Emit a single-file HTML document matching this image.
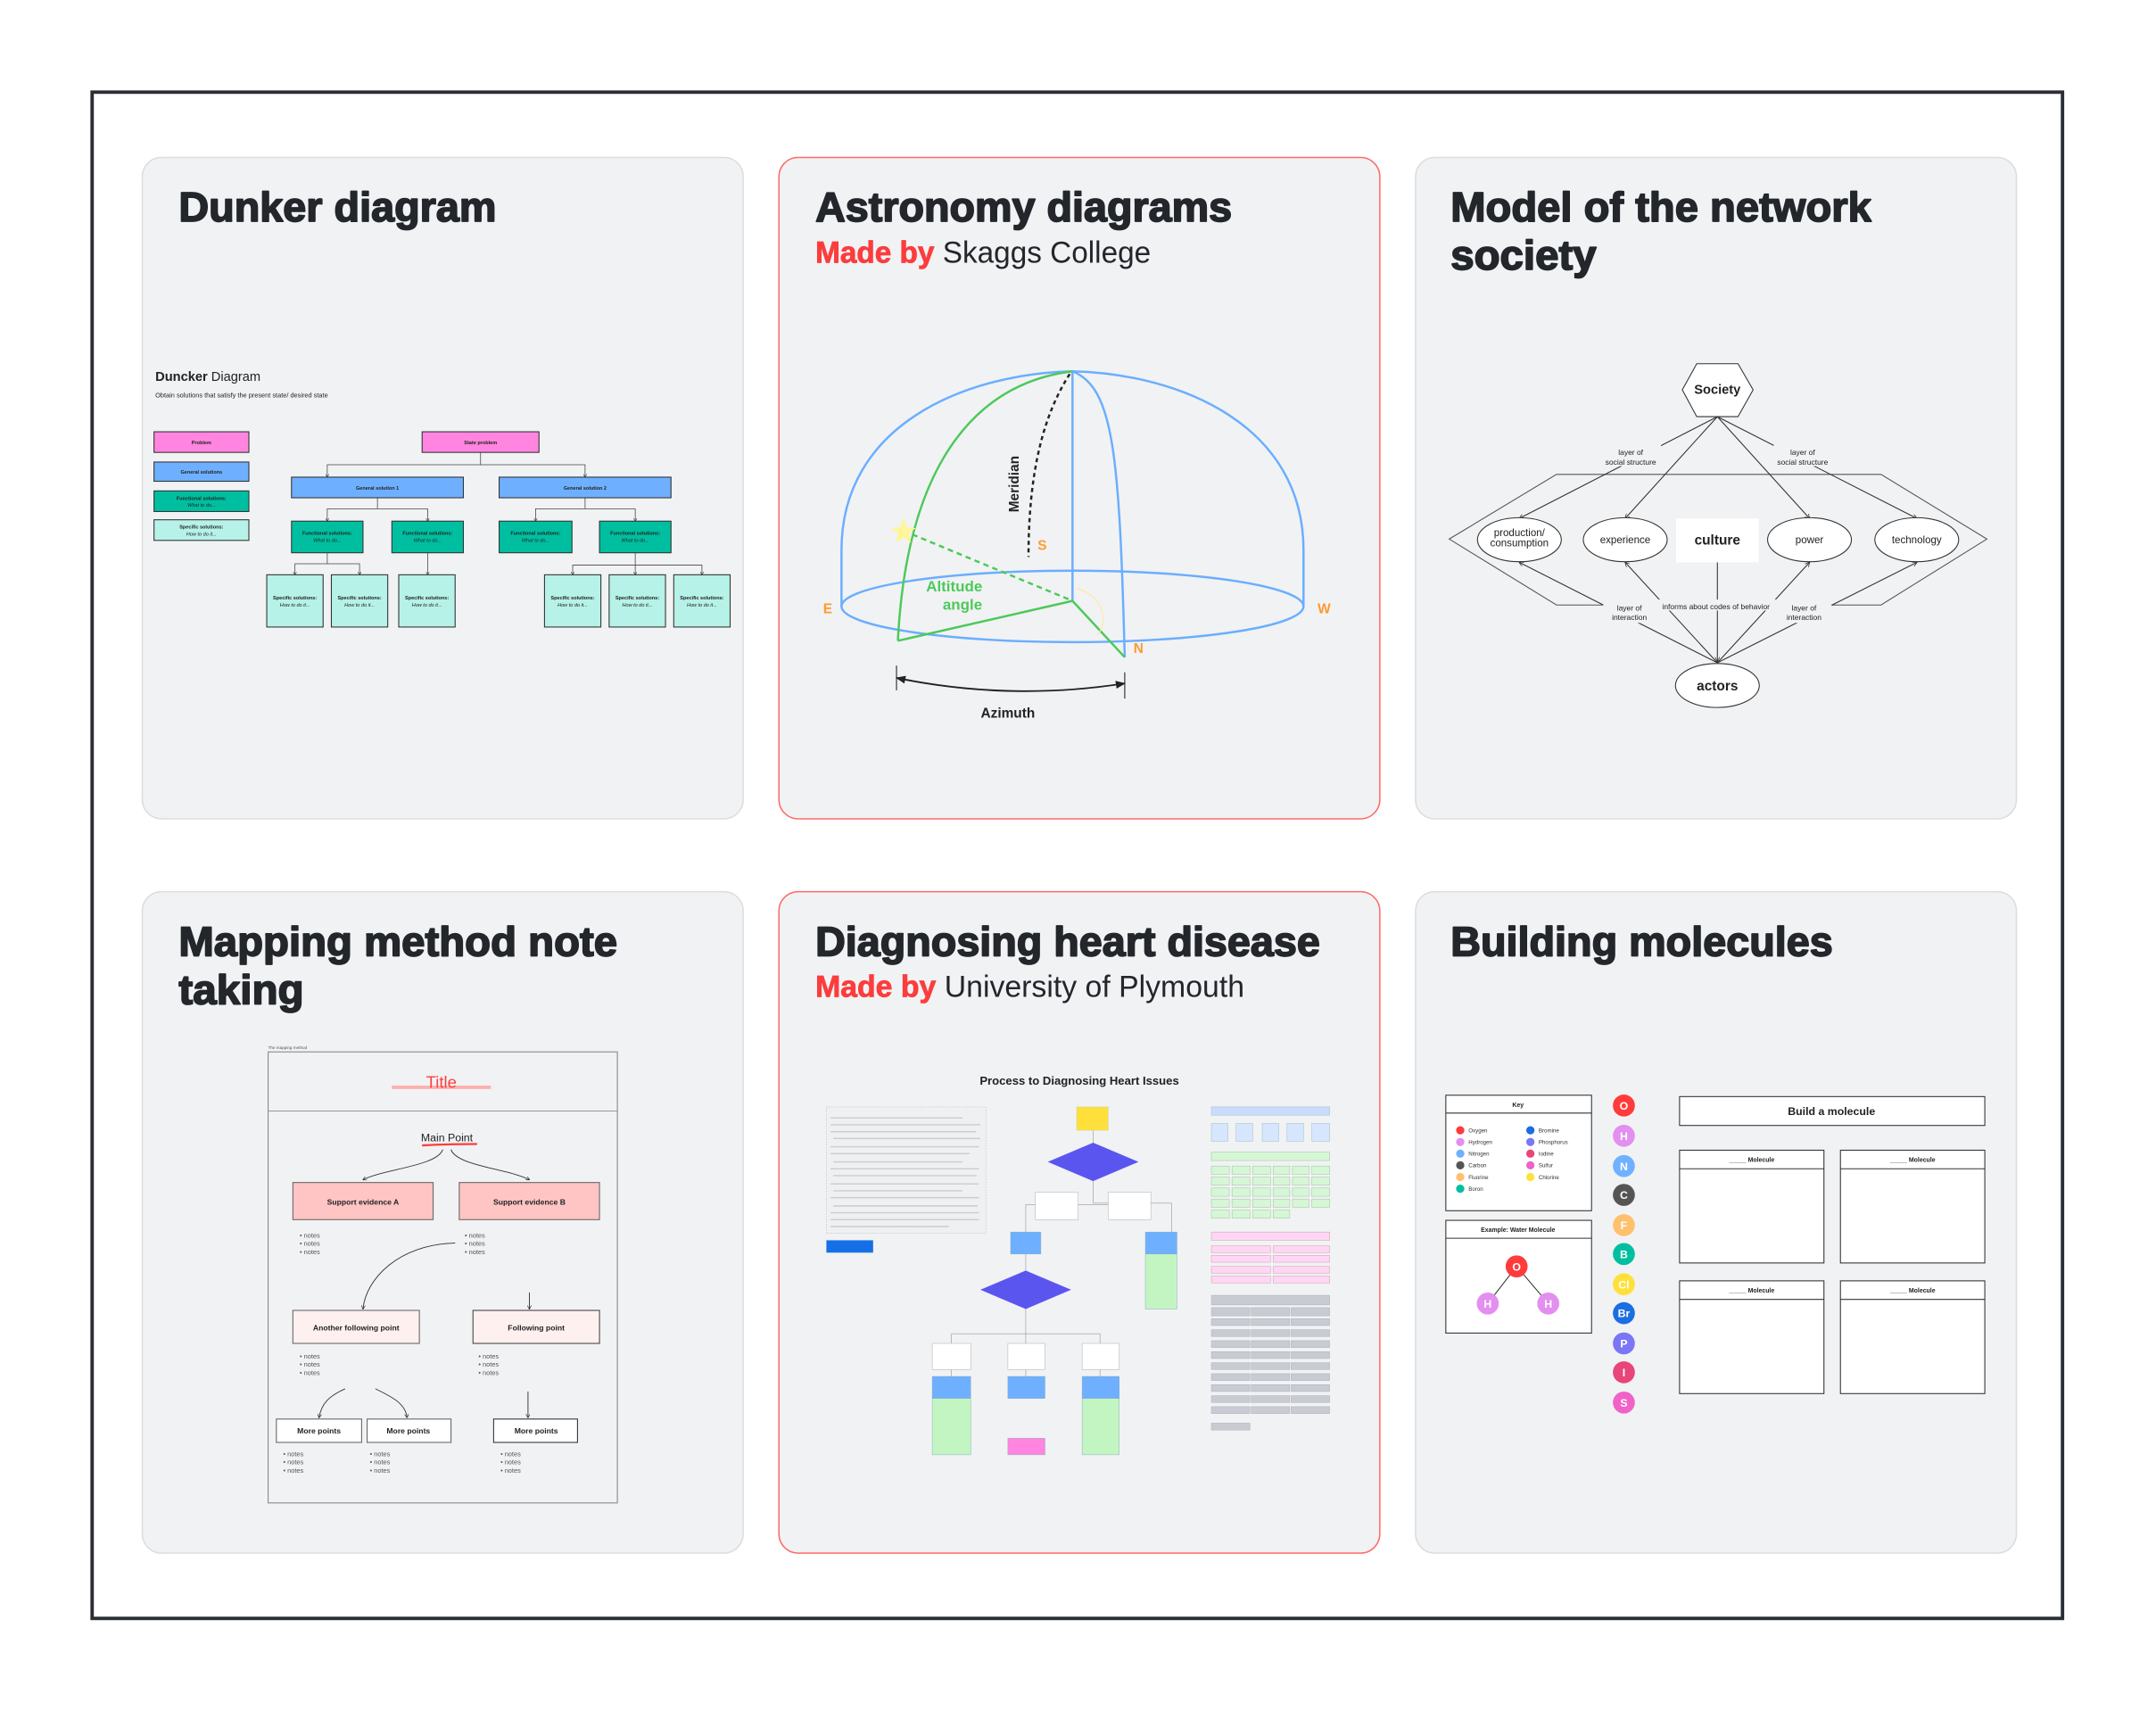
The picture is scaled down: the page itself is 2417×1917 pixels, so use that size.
<!DOCTYPE html>
<html><head><meta charset="utf-8"><style>html,body{margin:0;padding:0;background:#fff}svg{display:block}</style></head>
<body>
<svg width="2417" height="1917" viewBox="0 0 1568 1243.6" xmlns="http://www.w3.org/2000/svg" font-family="Liberation Sans, sans-serif">
<defs>
<marker id="ar" viewBox="0 0 10 10" refX="9" refY="5" markerWidth="5" markerHeight="5" orient="auto-start-reverse"><path d="M0,0 L10,5 L0,10" fill="none" stroke="#333" stroke-width="1.5"/></marker>
<marker id="az" viewBox="0 0 10 10" refX="9" refY="5" markerWidth="6" markerHeight="6" orient="auto-start-reverse"><path d="M0,1 L10,5 L0,9 z" fill="#222"/></marker>
</defs>
<rect width="1568" height="1243.6" fill="#fff"/>
<rect x="67" y="67" width="1433" height="1110" fill="#fff" stroke="#2a2d33" stroke-width="2.5"/>
<!-- cards -->
<g stroke-width="1">
<rect x="103.5" y="114.5" width="437" height="481" rx="14" fill="#f1f2f4" stroke="#dcdde0"/>
<rect x="566.5" y="114.5" width="437" height="481" rx="14" fill="#f1f2f4" stroke="#ff6b6b"/>
<rect x="1029.5" y="114.5" width="437" height="481" rx="14" fill="#f1f2f4" stroke="#dcdde0"/>
<rect x="103.5" y="648.5" width="437" height="481" rx="14" fill="#f1f2f4" stroke="#dcdde0"/>
<rect x="566.5" y="648.5" width="437" height="481" rx="14" fill="#f1f2f4" stroke="#ff6b6b"/>
<rect x="1029.5" y="648.5" width="437" height="481" rx="14" fill="#f1f2f4" stroke="#dcdde0"/>
</g>
<!-- titles -->
<g font-weight="bold" font-size="30" fill="#23262b" stroke="#23262b" stroke-width="1.1" stroke-linejoin="round">
<text x="130" y="161" textLength="231" lengthAdjust="spacingAndGlyphs">Dunker diagram</text>
<text x="593" y="161" textLength="303" lengthAdjust="spacingAndGlyphs">Astronomy diagrams</text>
<text x="1055" y="161" textLength="306" lengthAdjust="spacingAndGlyphs">Model of the network</text>
<text x="1055" y="196" textLength="106" lengthAdjust="spacingAndGlyphs">society</text>
<text x="130" y="695" textLength="319" lengthAdjust="spacingAndGlyphs">Mapping method note</text>
<text x="130" y="730" textLength="91" lengthAdjust="spacingAndGlyphs">taking</text>
<text x="593" y="695" textLength="367" lengthAdjust="spacingAndGlyphs">Diagnosing heart disease</text>
<text x="1055" y="695" textLength="278" lengthAdjust="spacingAndGlyphs">Building molecules</text>
</g>
<text x="593" y="191" font-size="22" fill="#23262b" textLength="244" lengthAdjust="spacingAndGlyphs"><tspan fill="#fc3d3d" stroke="#fc3d3d" stroke-width="0.5" font-weight="bold">Made by</tspan> Skaggs College</text>
<text x="593" y="725" font-size="22" fill="#23262b" textLength="312" lengthAdjust="spacingAndGlyphs"><tspan fill="#fc3d3d" stroke="#fc3d3d" stroke-width="0.5" font-weight="bold">Made by</tspan> University of Plymouth</text>

<!-- Dunker diagram -->
<g font-size="3.6" text-anchor="middle" fill="#222" font-weight="bold">
<text x="113" y="277" font-size="9.5" text-anchor="start" font-weight="normal"><tspan font-weight="bold">Duncker</tspan> Diagram</text>
<text x="113" y="289" font-size="4.8" text-anchor="start" font-weight="normal">Obtain solutions that satisfy the present state/ desired state</text>
<g stroke="#333" stroke-width="0.7">
<rect x="112" y="314" width="69" height="15" fill="#ff85e0"/>
<rect x="112" y="336" width="69" height="14" fill="#6eb0ff"/>
<rect x="112" y="357" width="69" height="15" fill="#00bfa0"/>
<rect x="112" y="378" width="69" height="15" fill="#b6f2e8"/>
<rect x="307" y="314" width="85" height="15" fill="#ff85e0"/>
<rect x="212" y="347" width="125" height="15" fill="#6eb0ff"/>
<rect x="363" y="347" width="125" height="15" fill="#6eb0ff"/>
<rect x="212" y="379" width="52" height="23" fill="#00bfa0"/>
<rect x="285" y="379" width="52" height="23" fill="#00bfa0"/>
<rect x="363" y="379" width="53" height="23" fill="#00bfa0"/>
<rect x="436" y="379" width="52" height="23" fill="#00bfa0"/>
<rect x="194" y="418" width="41" height="38" fill="#b6f2e8"/>
<rect x="241" y="418" width="41" height="38" fill="#b6f2e8"/>
<rect x="290" y="418" width="41" height="38" fill="#b6f2e8"/>
<rect x="396" y="418" width="41" height="38" fill="#b6f2e8"/>
<rect x="443" y="418" width="41" height="38" fill="#b6f2e8"/>
<rect x="490" y="418" width="41" height="38" fill="#b6f2e8"/>
</g>
<g stroke="#444" stroke-width="0.5" fill="none" marker-end="url(#ar)">
<path d="M349.5,329 V338 H238 V347"/><path d="M349.5,338 H425.5 V347"/>
<path d="M274.5,362 V370 H238 V379"/><path d="M274.5,370 H311 V379"/>
<path d="M425.5,362 V370 H389.5 V379"/><path d="M425.5,370 H462 V379"/>
<path d="M238,402 V410 H214.5 V418"/><path d="M238,410 H261.5 V418"/>
<path d="M311,402 V418"/>
<path d="M462,402 V411 H416.5 V418"/><path d="M462,411 V418"/><path d="M462,411 H510.5 V418"/>
</g>
<text x="146.5" y="323">Problem</text><text x="146.5" y="344.5">General solutions</text>
<text x="146.5" y="363.5">Functional solutions:</text><text x="146.5" y="368.5" font-weight="normal" font-style="italic">What to do...</text>
<text x="146.5" y="384.5">Specific solutions:</text><text x="146.5" y="389.5" font-weight="normal" font-style="italic">How to do it...</text>
<text x="349.5" y="323">State problem</text>
<text x="274.5" y="356">General solution 1</text><text x="425.5" y="356">General solution 2</text>
<g><text x="238" y="389">Functional solutions:</text><text x="238" y="394" font-weight="normal" font-style="italic">What to do...</text>
<text x="311" y="389">Functional solutions:</text><text x="311" y="394" font-weight="normal" font-style="italic">What to do...</text>
<text x="389.5" y="389">Functional solutions:</text><text x="389.5" y="394" font-weight="normal" font-style="italic">What to do...</text>
<text x="462" y="389">Functional solutions:</text><text x="462" y="394" font-weight="normal" font-style="italic">What to do...</text></g>
<g><text x="214.5" y="436">Specific solutions:</text><text x="214.5" y="441" font-weight="normal" font-style="italic">How to do it...</text>
<text x="261.5" y="436">Specific solutions:</text><text x="261.5" y="441" font-weight="normal" font-style="italic">How to do it...</text>
<text x="310.5" y="436">Specific solutions:</text><text x="310.5" y="441" font-weight="normal" font-style="italic">How to do it...</text>
<text x="416.5" y="436">Specific solutions:</text><text x="416.5" y="441" font-weight="normal" font-style="italic">How to do it...</text>
<text x="463.5" y="436">Specific solutions:</text><text x="463.5" y="441" font-weight="normal" font-style="italic">How to do it...</text>
<text x="510.5" y="436">Specific solutions:</text><text x="510.5" y="441" font-weight="normal" font-style="italic">How to do it...</text></g>
</g>

<!-- Astronomy -->
<g fill="none" stroke-width="1.6">
<ellipse cx="780" cy="441" rx="168" ry="26" stroke="#6aaeff"/>
<path d="M612,441 V400 C612,310 700,272 780,270 C860,272 948,310 948,400 V441" stroke="#6aaeff"/>
<path d="M780,270 V437" stroke="#6aaeff"/>
<path d="M780,270 C810,282 814,330 818,478" stroke="#6aaeff"/>
<path d="M780,270 C715,278 660,330 653,466" stroke="#4cc95a"/>
<path d="M653,466 L780,437 L818,478" stroke="#4cc95a"/>
<path d="M657,386 L780,437" stroke="#4cc95a" stroke-dasharray="4,3"/>
<path d="M778,272 C760,300 748,340 748,405" stroke="#222" stroke-dasharray="3,2.5"/>
<path d="M783,428 C800,432 808,450 798,462" stroke="#ffe9a8" stroke-width="0.8"/>
<path d="M652,493 Q735,510 818,497" stroke="#222" stroke-width="1.2" marker-start="url(#az)" marker-end="url(#az)"/>
<path d="M652,484 V502 M818,489 V508" stroke="#222" stroke-width="0.7"/>
</g>
<polygon points="657,377 659.5,383.5 666,384 661,388 662.5,394.5 657,391 651.5,394.5 653,388 648,384 654.5,383.5" fill="#fff59a"/>
<g font-weight="bold" font-size="10">
<text x="602" y="446" fill="#ff9a2e" text-anchor="middle">E</text>
<text x="963" y="446" fill="#ff9a2e" text-anchor="middle">W</text>
<text x="758" y="400" fill="#ff9a2e" text-anchor="middle">S</text>
<text x="828" y="475" fill="#ff9a2e" text-anchor="middle">N</text>
<text x="694" y="430" fill="#4cc95a" text-anchor="middle" font-size="11">Altitude</text>
<text x="700" y="443.5" fill="#4cc95a" text-anchor="middle" font-size="11">angle</text>
<text x="733" y="522" fill="#222" text-anchor="middle">Azimuth</text>
<text transform="translate(741,352) rotate(-90)" fill="#222" text-anchor="middle">Meridian</text>
</g>

<!-- Network society -->
<g fill="none" stroke="#333" stroke-width="0.7">
<polygon points="1054,392 1132,345 1368,345 1445,392 1368,440 1132,440" stroke="#555"/>
<g marker-end="url(#ar)">
<path d="M1249,303 L1105,377"/><path d="M1249,303 L1182,377"/><path d="M1249,303 L1316,377"/><path d="M1249,303 L1394,377"/>
<path d="M1249,482 L1105,409"/><path d="M1249,482 L1182,409"/><path d="M1249,482 L1316,409"/><path d="M1249,482 L1394,409"/>
<path d="M1249,409 L1249,481"/>
</g>
<polygon points="1223.5,283.5 1234,264.5 1264,264.5 1275,283.5 1264,303 1234,303" fill="#fff" stroke="#333"/>
<ellipse cx="1105" cy="392.5" rx="30.5" ry="16" fill="#fff"/>
<ellipse cx="1182" cy="392.5" rx="30.5" ry="16" fill="#fff"/>
<ellipse cx="1316" cy="392.5" rx="30.5" ry="16" fill="#fff"/>
<ellipse cx="1394" cy="392.5" rx="30.5" ry="16" fill="#fff"/>
<ellipse cx="1249" cy="498.5" rx="30.5" ry="16" fill="#fff"/>
</g>
<rect x="1219" y="377" width="60" height="32" fill="#fff"/>
<g text-anchor="middle" fill="#222">
<g font-size="5.5">
<rect x="1164" y="323" width="44" height="16" fill="#f1f2f4"/><rect x="1290" y="323" width="44" height="16" fill="#f1f2f4"/>
<rect x="1166" y="436" width="40" height="17" fill="#f1f2f4"/><rect x="1292" y="436" width="40" height="17" fill="#f1f2f4"/>
<rect x="1203" y="436" width="92" height="8" fill="#f1f2f4"/>
<text x="1186" y="331">layer of</text><text x="1186" y="338">social structure</text>
<text x="1311" y="331">layer of</text><text x="1311" y="338">social structure</text>
<text x="1185" y="444">layer of</text><text x="1185" y="451">interaction</text>
<text x="1312" y="444">layer of</text><text x="1312" y="451">interaction</text>
<text x="1248" y="443">informs about codes of behavior</text>
</g>
<g font-size="7.5"><text x="1105" y="390">production/</text><text x="1105" y="397.5">consumption</text>
<text x="1182" y="395">experience</text><text x="1316" y="395">power</text><text x="1394" y="395">technology</text></g>
<text x="1249" y="396" font-size="10" font-weight="bold">culture</text>
<text x="1249" y="502" font-size="10" font-weight="bold">actors</text>
<text x="1249" y="286.5" font-size="9.5" font-weight="bold">Society</text>
</g>

<!-- Mapping method -->
<text x="195" y="763" font-size="3" fill="#555">The mapping method</text>
<rect x="195" y="765" width="254" height="328" fill="#f1f2f4" stroke="#888" stroke-width="0.7"/>
<line x1="195" y1="808" x2="449" y2="808" stroke="#999" stroke-width="0.7"/>
<rect x="285" y="789.5" width="72" height="2.5" fill="#ffb0b0"/>
<text x="321" y="791" font-size="12" fill="#fc3d3d" text-anchor="middle">Title</text>
<text x="325" y="830" font-size="8" fill="#222" text-anchor="middle">Main Point</text>
<path d="M307,833 Q325,832 347,832" stroke="#fc3d3d" stroke-width="1.5" fill="none"/>
<g stroke="#333" stroke-width="0.6" fill="none" marker-end="url(#ar)">
<path d="M322,836 C318,848 280,850 264,858"/>
<path d="M328,836 C332,848 370,850 385,858"/>
<path d="M331,904 C290,905 266,930 264,952"/>
<path d="M385,940 V952"/>
<path d="M251,1010 C240,1015 234,1020 232,1031"/>
<path d="M273,1010 C283,1015 295,1020 296,1031"/>
<path d="M384,1012 V1031"/>
</g>
<g stroke="#666" stroke-width="0.7">
<rect x="213" y="860" width="102" height="27" fill="#ffc4c4"/>
<rect x="334" y="860" width="102" height="27" fill="#ffc4c4"/>
<rect x="213" y="953" width="92" height="24" fill="#fff0f0"/>
<rect x="344" y="953" width="92" height="24" fill="#fff0f0" stroke="#444"/>
<rect x="201" y="1032" width="62" height="17" fill="#fff"/>
<rect x="267" y="1032" width="61" height="17" fill="#fff"/>
<rect x="359" y="1032" width="61" height="17" fill="#fff" stroke="#333"/>
</g>
<g font-size="5.6" font-weight="bold" fill="#222" text-anchor="middle">
<text x="264" y="876">Support evidence A</text><text x="385" y="876">Support evidence B</text>
<text x="259" y="967.5">Another following point</text><text x="390" y="967.5">Following point</text>
<text x="232" y="1042.5">More points</text><text x="297" y="1042.5">More points</text><text x="390" y="1042.5">More points</text>
</g>
<g font-size="4.8" fill="#555">
<text x="218" y="900">• notes</text><text x="218" y="906">• notes</text><text x="218" y="912">• notes</text>
<text x="338" y="900">• notes</text><text x="338" y="906">• notes</text><text x="338" y="912">• notes</text>
<text x="218" y="988">• notes</text><text x="218" y="994">• notes</text><text x="218" y="1000">• notes</text>
<text x="348" y="988">• notes</text><text x="348" y="994">• notes</text><text x="348" y="1000">• notes</text>
<text x="206" y="1059">• notes</text><text x="206" y="1065">• notes</text><text x="206" y="1071">• notes</text>
<text x="269" y="1059">• notes</text><text x="269" y="1065">• notes</text><text x="269" y="1071">• notes</text>
<text x="364" y="1059">• notes</text><text x="364" y="1065">• notes</text><text x="364" y="1071">• notes</text>
</g>

<!-- Heart disease -->
<text x="785" y="789" font-size="8.5" font-weight="bold" fill="#222" text-anchor="middle">Process to Diagnosing Heart Issues</text>
<rect x="601" y="805" width="116" height="92" fill="#eef0f2" stroke="#bbb" stroke-width="0.4" stroke-dasharray="1,1"/>
<g stroke="#ccc" stroke-width="0.9">
<line x1="604" y1="813" x2="700" y2="813"/><line x1="604" y1="818" x2="713" y2="818"/><line x1="604" y1="823" x2="710" y2="823"/><line x1="606" y1="828" x2="713" y2="828"/><line x1="604" y1="834" x2="712" y2="834"/><line x1="604" y1="839" x2="705" y2="839"/><line x1="606" y1="845" x2="700" y2="845"/><line x1="604" y1="850" x2="712" y2="850"/><line x1="606" y1="855" x2="710" y2="855"/><line x1="604" y1="861" x2="712" y2="861"/><line x1="606" y1="866" x2="700" y2="866"/><line x1="604" y1="871" x2="712" y2="871"/><line x1="606" y1="877" x2="711" y2="877"/><line x1="604" y1="882" x2="712" y2="882"/><line x1="604" y1="887" x2="712" y2="887"/><line x1="604" y1="892" x2="690" y2="892"/>
</g>
<rect x="601" y="902" width="34" height="9" fill="#1570e8"/>
<g stroke="#999" stroke-width="0.4" fill="none">
<path d="M795,822 V831 M795,859 V875 M768,876 H806 M795,875 H852 V896 M768,876 H746 V896 M746,912 V924 M746,952 V970 H800 V977 M692,970 V977 M692,970 H746 V977"/>
<path d="M692,996 V1001 M746,996 V1001 M800,996 V1001"/>
</g>
<rect x="783" y="805" width="23" height="17" fill="#ffe03a" stroke="#ccb" stroke-width="0.3"/>
<polygon points="762,845 795,831 828,845 795,859" fill="#5b55f0"/>
<polygon points="713,938 746,924 779,938 746,952" fill="#5b55f0"/>
<g fill="#fff" stroke="#bbb" stroke-width="0.4">
<rect x="753" y="867" width="31" height="20"/><rect x="806" y="867" width="31" height="20"/>
<rect x="678" y="977" width="28" height="19"/><rect x="733" y="977" width="27" height="19"/><rect x="787" y="977" width="27" height="19"/>
</g>
<g stroke="#8ab" stroke-width="0.3">
<rect x="735" y="896" width="22" height="16" fill="#6eb0ff"/>
<rect x="833" y="896" width="23" height="16" fill="#6eb0ff"/><rect x="833" y="912" width="23" height="40" fill="#c3f5c3"/>
<rect x="678" y="1001" width="28" height="16" fill="#6eb0ff"/><rect x="678" y="1017" width="28" height="41" fill="#c3f5c3"/>
<rect x="733" y="1001" width="27" height="16" fill="#6eb0ff"/>
<rect x="787" y="1001" width="27" height="16" fill="#6eb0ff"/><rect x="787" y="1017" width="27" height="41" fill="#c3f5c3"/>
<rect x="733" y="1046" width="27" height="12" fill="#ff85e0"/>
</g>
<g stroke-width="0.3">
<rect x="881" y="805" width="86" height="6" fill="#c9dcff" stroke="#9bb"/>
<g fill="#d6e6ff" stroke="#9bb"><rect x="881" y="817" width="12" height="13"/><rect x="899" y="817" width="12" height="13"/><rect x="918" y="817" width="12" height="13"/><rect x="936" y="817" width="12" height="13"/><rect x="954" y="817" width="13" height="13"/></g>
<rect x="881" y="838" width="86" height="6" fill="#d6f7d6" stroke="#9b9"/>
<g fill="#d6f7d6" stroke="#9b9">
<rect x="881" y="848" width="13" height="6"/><rect x="896" y="848" width="13" height="6"/><rect x="911" y="848" width="13" height="6"/><rect x="926" y="848" width="12" height="6"/><rect x="940" y="848" width="12" height="6"/><rect x="954" y="848" width="13" height="6"/>
<rect x="881" y="856" width="13" height="6"/><rect x="896" y="856" width="13" height="6"/><rect x="911" y="856" width="13" height="6"/><rect x="926" y="856" width="12" height="6"/><rect x="940" y="856" width="12" height="6"/><rect x="954" y="856" width="13" height="6"/>
<rect x="881" y="864" width="13" height="6"/><rect x="896" y="864" width="13" height="6"/><rect x="911" y="864" width="13" height="6"/><rect x="926" y="864" width="12" height="6"/><rect x="940" y="864" width="12" height="6"/><rect x="954" y="864" width="13" height="6"/>
<rect x="881" y="872" width="13" height="6"/><rect x="896" y="872" width="13" height="6"/><rect x="911" y="872" width="13" height="6"/><rect x="926" y="872" width="12" height="6"/><rect x="940" y="872" width="12" height="6"/><rect x="954" y="872" width="13" height="6"/>
<rect x="881" y="880" width="13" height="6"/><rect x="896" y="880" width="13" height="6"/><rect x="911" y="880" width="13" height="6"/><rect x="926" y="880" width="12" height="6"/>
</g>
<rect x="881" y="896" width="86" height="6" fill="#ffd6f3" stroke="#c9a"/>
<g fill="#ffd6f3" stroke="#c9a">
<rect x="881" y="906" width="43" height="5"/><rect x="926" y="906" width="41" height="5"/>
<rect x="881" y="913" width="43" height="5"/><rect x="926" y="913" width="41" height="5"/>
<rect x="881" y="921" width="43" height="5"/><rect x="926" y="921" width="41" height="5"/>
<rect x="881" y="928" width="43" height="5"/><rect x="926" y="928" width="41" height="5"/>
</g>
<rect x="881" y="942" width="86" height="7" fill="#c8ccd2" stroke="#aab"/>
<g fill="#c8ccd2" stroke="#aab">
<rect x="881" y="951" width="28" height="6"/><rect x="910" y="951" width="28" height="6"/><rect x="939" y="951" width="28" height="6"/>
<rect x="881" y="959" width="28" height="5"/><rect x="910" y="959" width="28" height="5"/><rect x="939" y="959" width="28" height="5"/>
<rect x="881" y="967" width="28" height="5"/><rect x="910" y="967" width="28" height="5"/><rect x="939" y="967" width="28" height="5"/>
<rect x="881" y="975" width="28" height="5"/><rect x="910" y="975" width="28" height="5"/><rect x="939" y="975" width="28" height="5"/>
<rect x="881" y="983" width="28" height="5"/><rect x="910" y="983" width="28" height="5"/><rect x="939" y="983" width="28" height="5"/>
<rect x="881" y="991" width="28" height="5"/><rect x="910" y="991" width="28" height="5"/><rect x="939" y="991" width="28" height="5"/>
<rect x="881" y="999" width="28" height="5"/><rect x="910" y="999" width="28" height="5"/><rect x="939" y="999" width="28" height="5"/>
<rect x="881" y="1007" width="28" height="5"/><rect x="910" y="1007" width="28" height="5"/><rect x="939" y="1007" width="28" height="5"/>
<rect x="881" y="1015" width="28" height="5"/><rect x="910" y="1015" width="28" height="5"/><rect x="939" y="1015" width="28" height="5"/>
<rect x="881" y="1023" width="28" height="5"/><rect x="910" y="1023" width="28" height="5"/><rect x="939" y="1023" width="28" height="5"/>
<rect x="881" y="1035" width="28" height="5"/>
</g>
</g>

<!-- Molecules -->
<g stroke="#333" stroke-width="0.7" fill="#fff">
<rect x="1051.5" y="796.5" width="106" height="84"/><line x1="1051.5" y1="809.5" x2="1157.5" y2="809.5"/>
<rect x="1051.5" y="887.5" width="106" height="82"/><line x1="1051.5" y1="900.5" x2="1157.5" y2="900.5"/>
<rect x="1221.5" y="797.5" width="222" height="21"/>
<rect x="1221.5" y="836.5" width="105" height="82"/><line x1="1221.5" y1="850" x2="1326.5" y2="850"/>
<rect x="1338.5" y="836.5" width="105" height="82"/><line x1="1338.5" y1="850" x2="1443.5" y2="850"/>
<rect x="1221.5" y="931.5" width="105" height="82"/><line x1="1221.5" y1="945" x2="1326.5" y2="945"/>
<rect x="1338.5" y="931.5" width="105" height="82"/><line x1="1338.5" y1="945" x2="1443.5" y2="945"/>
<line x1="1103" y1="921" x2="1082" y2="948"/><line x1="1103" y1="921" x2="1126" y2="948"/>
</g>
<g font-weight="bold" fill="#222" text-anchor="middle">
<text x="1104" y="805" font-size="4.5">Key</text>
<text x="1104" y="896" font-size="4.5">Example: Water Molecule</text>
<text x="1332" y="811" font-size="8">Build a molecule</text>
<text x="1274" y="845" font-size="4.5">_____ Molecule</text><text x="1391" y="845" font-size="4.5">_____ Molecule</text>
<text x="1274" y="940" font-size="4.5">_____ Molecule</text><text x="1391" y="940" font-size="4.5">_____ Molecule</text>
</g>
<g font-size="4" fill="#333">
<circle cx="1062" cy="822" r="3" fill="#ff3b3b"/><text x="1068" y="823.5">Oxygen</text>
<circle cx="1062" cy="830.5" r="3" fill="#e38ff0"/><text x="1068" y="832">Hydrogen</text>
<circle cx="1062" cy="839" r="3" fill="#6fb1ff"/><text x="1068" y="840.5">Nitrogen</text>
<circle cx="1062" cy="847.5" r="3" fill="#555"/><text x="1068" y="849">Carbon</text>
<circle cx="1062" cy="856" r="3" fill="#ffc06e"/><text x="1068" y="857.5">Fluorine</text>
<circle cx="1062" cy="864.5" r="3" fill="#00bfa0"/><text x="1068" y="866">Boron</text>
<circle cx="1113" cy="822" r="3" fill="#1a6ee0"/><text x="1119" y="823.5">Bromine</text>
<circle cx="1113" cy="830.5" r="3" fill="#7b76f5"/><text x="1119" y="832">Phosphorus</text>
<circle cx="1113" cy="839" r="3" fill="#e8457a"/><text x="1119" y="840.5">Iodine</text>
<circle cx="1113" cy="847.5" r="3" fill="#f062c8"/><text x="1119" y="849">Sulfur</text>
<circle cx="1113" cy="856" r="3" fill="#ffe03a"/><text x="1119" y="857.5">Chlorine</text>
</g>
<g font-weight="bold" fill="#fff" text-anchor="middle" font-size="8">
<circle cx="1103" cy="921" r="8" fill="#ff3b3b"/><text x="1103" y="924">O</text>
<circle cx="1082" cy="948" r="8" fill="#e38ff0"/><text x="1082" y="951">H</text>
<circle cx="1126" cy="948" r="8" fill="#e38ff0"/><text x="1126" y="951">H</text>
<circle cx="1181" cy="804" r="8" fill="#ff3b3b"/><text x="1181" y="807">O</text>
<circle cx="1181" cy="826" r="8" fill="#e38ff0"/><text x="1181" y="829">H</text>
<circle cx="1181" cy="848" r="8" fill="#6fb1ff"/><text x="1181" y="851">N</text>
<circle cx="1181" cy="869" r="8" fill="#555"/><text x="1181" y="872">C</text>
<circle cx="1181" cy="891" r="8" fill="#ffc06e"/><text x="1181" y="894">F</text>
<circle cx="1181" cy="912" r="8" fill="#00bfa0"/><text x="1181" y="915">B</text>
<circle cx="1181" cy="934" r="8" fill="#ffe03a"/><text x="1181" y="937">Cl</text>
<circle cx="1181" cy="955" r="8" fill="#1a6ee0"/><text x="1181" y="958">Br</text>
<circle cx="1181" cy="977" r="8" fill="#7b76f5"/><text x="1181" y="980">P</text>
<circle cx="1181" cy="998" r="8" fill="#e8457a"/><text x="1181" y="1001">I</text>
<circle cx="1181" cy="1020" r="8" fill="#f062c8"/><text x="1181" y="1023">S</text>
</g>
</svg>
</body></html>
